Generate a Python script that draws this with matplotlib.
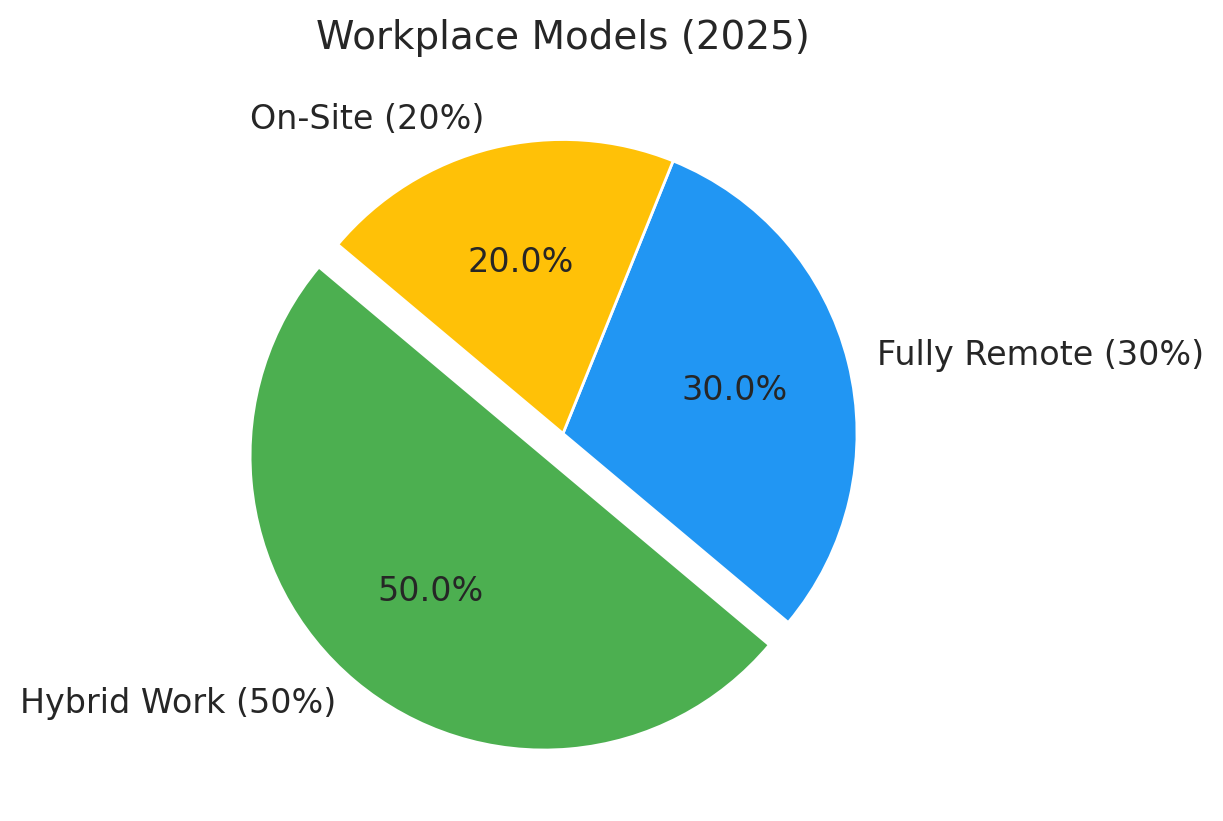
import matplotlib.pyplot as plt
import seaborn as sns

labels = ['Hybrid Work (50%)', 'Fully Remote (30%)', 'On-Site (20%)']
shares = [50, 30, 20]
colors = ['#4CAF50', '#2196F3', '#FFC107']
explode = [0.1, 0, 0]

sns.set_theme(style='white')
plt.rcParams['font.family'] = ['DejaVu Sans']

W, H = 1223, 821
cx, cy, r = 563, 433.5, 294  # pie centre and radius in pixels (from top-left)

fig = plt.figure(figsize=(W / 100, H / 100), dpi=100)
ax = fig.add_axes([0, 0, 1, 1])
wedges, texts, autotexts = ax.pie(shares, labels=labels, colors=colors, explode=explode,
                                  autopct='%1.1f%%', startangle=140,
                                  wedgeprops={'edgecolor': 'white', 'linewidth': 2},
                                  textprops={'fontsize': 24, 'color': '#262626'})
ax.set_aspect('auto')
ax.set_xlim(-cx / r, (W - cx) / r)
ax.set_ylim(-(H - cy) / r, cy / r)
fig.text(cx / W, 1 - 38 / H, 'Workplace Models (2025)', fontsize=28, color='#262626',
         ha='center', va='center')
fig.savefig('out.png', dpi=100)
